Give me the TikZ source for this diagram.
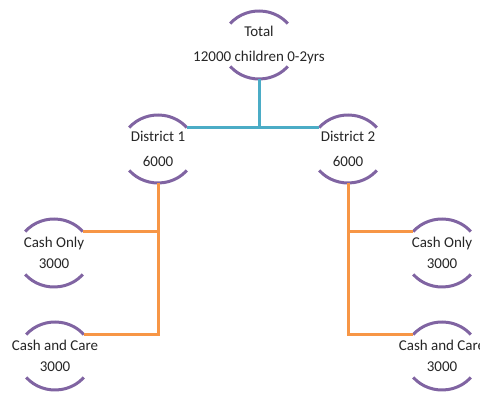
\documentclass[tikz,border=0pt]{standalone}
\usepackage{fontspec}
\setmainfont{Carlito}
\usetikzlibrary{shapes.geometric}
\definecolor{petalpurple}{HTML}{8064A2}
\definecolor{trunkblue}{HTML}{4BACC6}
\definecolor{branchorange}{HTML}{F79646}
\begin{document}
\begin{tikzpicture}[x=1pt,y=1pt,
  bud/.style={ellipse,minimum width=74pt,minimum height=68pt,inner sep=0pt,
    align=center,font=\fontsize{15}{21}\selectfont,text=black!85},
  petal/.style={petalpurple,line width=3pt},
  trunk/.style={trunkblue,line width=3pt},
  branch/.style={branchorange,line width=3pt}]
\useasboundingbox (0,0) rectangle (480,395);
\node[bud] (total) at (259,350) {Total\\[4pt]12000 children 0-2yrs};
\node[bud] (d1) at (158,246) {District 1\\[4pt]6000};
\node[bud] (d2) at (348,246) {District 2\\[4pt]6000};
\node[bud] (co1) at (54,142) {Cash Only\\3000};
\node[bud] (cc1) at (55,39) {Cash and Care\\3000};
\node[bud] (co2) at (442,142) {Cash Only\\3000};
\node[bud] (cc2) at (442,39) {Cash and Care\\3000};
% arcs above and below each label
\foreach \n in {total,d1,d2,co1,cc1,co2,cc2}{
  \coordinate (\n-ne) at ([shift={(39:37pt and 34pt)}]\n.center);
  \coordinate (\n-nw) at ([shift={(141:37pt and 34pt)}]\n.center);
  \draw[petal] (\n-nw) arc[start angle=141,end angle=39,x radius=37pt,y radius=34pt];
  \draw[petal] ([shift={(-141:37pt and 34pt)}]\n.center)
    arc[start angle=-141,end angle=-39,x radius=37pt,y radius=34pt];
}
% connectors
\draw[trunk] (d1-ne) -- (d2-nw);
\draw[trunk] (total.south) -- (total.south |- d1-ne);
\draw[branch] (d1.south) |- (co1-ne);
\draw[branch] (d1.south) |- (cc1-ne);
\draw[branch] (d2.south) |- (co2-nw);
\draw[branch] (d2.south) |- (cc2-nw);
\end{tikzpicture}
\end{document}
